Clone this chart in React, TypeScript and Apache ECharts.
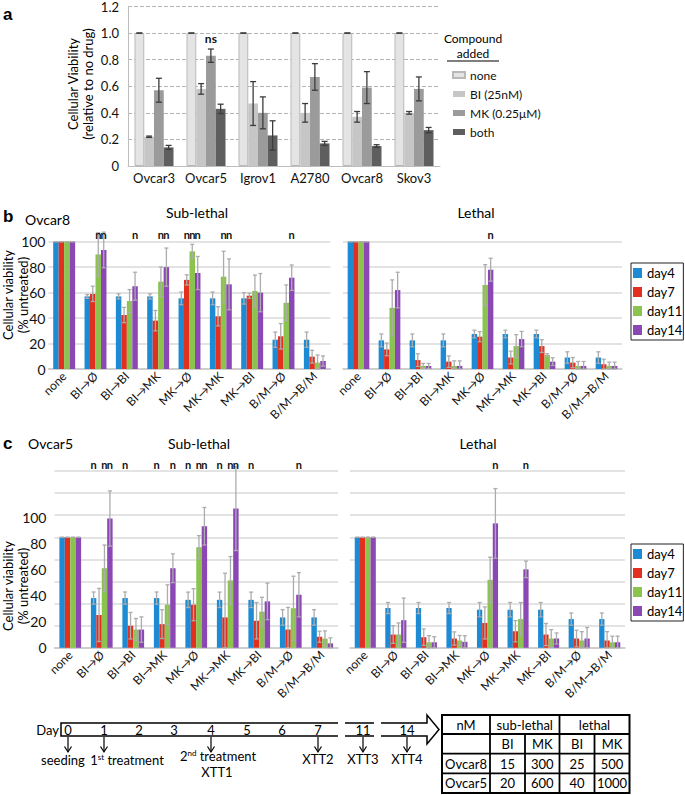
import React, { useEffect, useRef } from "react";
import * as echarts from "echarts";

// ---------------- Panel a : cell lines ----------------
const cellLines = ["Ovcar3", "Ovcar5", "Igrov1", "A2780", "Ovcar8", "Skov3"];
const compounds = ["none", "BI (25nM)", "MK (0.25μM)", "both"];
const viabilityNone = [1, 1, 1, 1, 1, 1];
const viabilityBI = [0.22, 0.58, 0.47, 0.4, 0.37, 0.4];
const viabilityMK = [0.57, 0.83, 0.4, 0.67, 0.59, 0.58];
const viabilityBoth = [0.14, 0.43, 0.23, 0.17, 0.15, 0.27];
const errNone = [0, 0, 0, 0, 0, 0];
const errBI = [0.005, 0.04, 0.165, 0.07, 0.04, 0.01];
const errMK = [0.09, 0.05, 0.12, 0.1, 0.12, 0.09];
const errBoth = [0.015, 0.035, 0.11, 0.015, 0.01, 0.02];
// [cell line index, compound index]
const nsMarksA = [[1, 2]];

// ---------------- Panels b / c : treatments ----------------
const treatments = ["none", "BI→Ø", "BI→BI", "BI→MK", "MK→Ø", "MK→MK", "MK→BI", "B/M→Ø", "B/M→B/M"];
const days = ["day4", "day7", "day11", "day14"];

// Ovcar8 sub-lethal
const o8SubDay4 = [100, 57, 57, 57, 55.5, 55.5, 55.5, 23, 23];
const o8SubDay7 = [100, 59, 42.4, 38, 70, 41.4, 57.6, 25.7, 9.7];
const o8SubDay11 = [100, 90, 53.4, 68.6, 92.4, 72.5, 61.3, 52, 5];
const o8SubDay14 = [100, 93.5, 65, 80, 75.4, 66.5, 60, 71.7, 6.3];
const o8SubErr4 = [0, 1.5, 2, 2, 5, 5, 4.5, 6, 6];
const o8SubErr7 = [0, 6, 6, 8, 4, 7.5, 2, 10, 5];
const o8SubErr11 = [0, 17, 9, 11.5, 5.5, 20, 12.5, 14, 6];
const o8SubErr14 = [0, 14, 11, 15, 13, 20, 15, 10, 4];
const o8SubMarks = [[1, 2], [1, 3], [2, 3], [3, 2], [3, 3], [4, 1], [4, 2], [4, 3], [5, 2], [5, 3], [7, 3]];

// Ovcar8 lethal
const o8LetDay4 = [100, 22.5, 22.5, 22.5, 27.5, 27.5, 27.5, 9, 9];
const o8LetDay7 = [100, 15.4, 7, 5.8, 25.4, 9, 18, 5, 3.7];
const o8LetDay11 = [100, 48, 2.4, 2.4, 66, 18, 11, 2.4, 2.4];
const o8LetDay14 = [100, 62, 2.4, 2.4, 78, 23.5, 5.8, 2.4, 2.4];
const o8LetErr4 = [0, 5, 5, 5, 3, 3, 3, 4.5, 4.5];
const o8LetErr7 = [0, 5, 5, 4.5, 4, 5, 5, 4, 4];
const o8LetErr11 = [0, 22, 2, 4, 16, 9, 1, 3.5, 3];
const o8LetErr14 = [0, 14, 2, 4, 9, 6, 3, 3.5, 3];
const o8LetMarks = [[4, 3]];

// Ovcar5 sub-lethal
const o5SubDay4 = [100, 45, 45, 45, 43.4, 43.4, 43.4, 27.5, 27.5];
const o5SubDay7 = [100, 29.7, 20, 21.4, 39, 27.5, 24.5, 16.5, 10];
const o5SubDay11 = [100, 72, 16.5, 39, 91, 61, 32.7, 35.8, 8.3];
const o5SubDay14 = [100, 117, 16.5, 72, 110, 126, 42, 48, 4];
const o5SubErr4 = [0, 5.5, 5.5, 5.5, 7, 7, 7, 7, 7];
const o5SubErr7 = [0, 24, 12, 13, 14.5, 40, 16.5, 20, 5];
const o5SubErr11 = [0, 21, 10, 18, 10.5, 21.6, 13, 29, 7];
const o5SubErr14 = [0, 25, 11.5, 13, 17, 38, 16.5, 20, 5];
const o5SubMarks = [[1, 0], [1, 2], [1, 3], [2, 0], [3, 0], [3, 3], [4, 0], [4, 2], [4, 3], [5, 0], [5, 2], [5, 3], [6, 0], [7, 3]];
const o5SubTickLabels = [0, 20, 40, 60, 80, 100];

// Ovcar5 lethal
const o5LetDay4 = [100, 36, 36, 36, 34.5, 34.5, 34.5, 26, 26];
const o5LetDay7 = [100, 12, 9.6, 8.4, 22.5, 15, 12, 8.4, 6.6];
const o5LetDay11 = [100, 12, 5, 6.6, 61.5, 26, 8.4, 6.6, 5];
const o5LetDay14 = [100, 25, 5, 5.4, 112.6, 71, 8.4, 8.4, 5];
const o5LetErr4 = [0, 5, 5, 5, 6.5, 6.5, 6.5, 5.5, 5.5];
const o5LetErr7 = [0, 8, 7.5, 6, 14.5, 9.6, 10, 7.5, 8];
const o5LetErr11 = [0, 10.5, 6, 4.5, 20.5, 15, 8, 8, 5.5];
const o5LetErr14 = [0, 20, 5, 5.5, 31.5, 7.5, 5, 10, 5.5];
const o5LetMarks = [[4, 3], [5, 3]];

// ---------------- Timeline & table ----------------
const timelineDays = ["0", "1", "2", "3", "4", "5", "6", "7", "11", "14"];
const tableHead1 = ["nM", "sub-lethal", "lethal"];
const tableHead2 = ["", "BI", "MK", "BI", "MK"];
const tableRows = [
  ["Ovcar8", "15", "300", "25", "500"],
  ["Ovcar5", "20", "600", "40", "1000"],
];

const FONT = "Lato, 'Liberation Sans', sans-serif";
const compoundColors = ["#e4e4e4", "#c6c6c6", "#9b9b9b", "#5e5e5e"];
const dayColors = ["#1d8ad4", "#e1301f", "#8bc34f", "#8b48b5"];

function errData(values: number[][], errs: number[][]) {
  const out: number[][] = [];
  values.forEach((vals, k) => vals.forEach((v, i) => out.push([i, k, v, errs[k][i]])));
  return out;
}

function makeErrRender(n: number, gap: number, cap: number, color: string, lw: number) {
  return (params: any, api: any) => {
    const cat = api.value(0);
    const k = api.value(1);
    const v = api.value(2);
    const e = api.value(3);
    const band = api.size([1, 0])[0];
    const bw = (band * (1 - gap)) / n;
    const off = (k - (n - 1) / 2) * bw;
    const hi = api.coord([cat, v + e]);
    const lo = api.coord([cat, Math.max(0, v - e)]);
    const x = hi[0] + off;
    const st = { stroke: color, lineWidth: lw };
    return {
      type: "group",
      children: [
        { type: "line", shape: { x1: x, y1: hi[1], x2: x, y2: lo[1] }, style: st },
        { type: "line", shape: { x1: x - cap / 2, y1: hi[1], x2: x + cap / 2, y2: hi[1] }, style: st },
        { type: "line", shape: { x1: x - cap / 2, y1: lo[1], x2: x + cap / 2, y2: lo[1] }, style: st },
      ],
    };
  };
}

function makeMarkRender(n: number, gap: number, level: number, text: string, font: string) {
  return (params: any, api: any) => {
    const cat = api.value(0);
    const k = api.value(1);
    const band = api.size([1, 0])[0];
    const bw = (band * (1 - gap)) / n;
    const off = (k - (n - 1) / 2) * bw;
    const p = api.coord([cat, level]);
    return {
      type: "text",
      x: p[0] + off,
      y: p[1],
      style: { text, align: "center", verticalAlign: "middle", font, fill: "#111" },
    };
  };
}

function panelSeries(
  names: string[],
  values: number[][],
  errs: number[][],
  marks: number[][],
  colors: string[],
  xi: number,
  yi: number,
  gap: number,
  errColor: string,
  cap: number,
  markLevel: number,
  markText: string,
  markFont: string,
  tag: string,
  firstBorder?: string
) {
  const s: any[] = names.map((name, k) => ({
    type: "bar",
    name,
    data: values[k],
    xAxisIndex: xi,
    yAxisIndex: yi,
    barGap: "0%",
    barCategoryGap: `${gap * 100}%`,
    itemStyle:
      k === 0 && firstBorder
        ? { color: colors[k], borderColor: firstBorder, borderWidth: 1 }
        : { color: colors[k] },
  }));
  s.push({
    type: "custom",
    name: "err-" + tag,
    xAxisIndex: xi,
    yAxisIndex: yi,
    data: errData(values, errs),
    renderItem: makeErrRender(names.length, gap, cap, errColor, 1.3),
    z: 5,
  });
  s.push({
    type: "custom",
    name: "mark-" + tag,
    xAxisIndex: xi,
    yAxisIndex: yi,
    data: marks,
    renderItem: makeMarkRender(names.length, gap, markLevel, markText, markFont),
    z: 5,
  });
  return s;
}

function buildOption() {
  const gridBC = { lineStyle: { color: "#e3e3e3", width: 2 } };
  const catAxisBC = (gridIndex: number) => ({
    type: "category",
    gridIndex,
    data: treatments,
    axisTick: { show: false },
    axisLine: { lineStyle: { color: "#c8c8c8", width: 1.5 } },
    axisLabel: { rotate: 45, interval: 0, fontSize: 12, color: "#111", margin: 5, fontFamily: FONT },
  });
  const valAxisBC = (gridIndex: number, max: number, showLabels: boolean) => ({
    type: "value",
    gridIndex,
    min: 0,
    max,
    interval: 20,
    position: "left",
    axisLine: { show: false },
    axisTick: { show: false },
    axisLabel: { show: showLabels, fontSize: 14, color: "#111", margin: 3, fontFamily: FONT },
    splitLine: gridBC,
  });

  const series: any[] = [
    ...panelSeries(
      compounds,
      [viabilityNone, viabilityBI, viabilityMK, viabilityBoth],
      [errNone, errBI, errMK, errBoth],
      nsMarksA,
      compoundColors,
      0, 0, 0.25, "#3c3c3c", 6, 0.96, "ns", `bold 12px ${FONT}`, "a", "#b9b9b9"
    ),
    ...panelSeries(
      days,
      [o8SubDay4, o8SubDay7, o8SubDay11, o8SubDay14],
      [o8SubErr4, o8SubErr7, o8SubErr11, o8SubErr14],
      o8SubMarks,
      dayColors,
      1, 1, 0.3, "#acacac", 4, 106, "n", `bold 11px ${FONT}`, "b1"
    ),
    ...panelSeries(
      days,
      [o8LetDay4, o8LetDay7, o8LetDay11, o8LetDay14],
      [o8LetErr4, o8LetErr7, o8LetErr11, o8LetErr14],
      o8LetMarks,
      dayColors,
      2, 2, 0.3, "#acacac", 4, 106, "n", `bold 11px ${FONT}`, "b2"
    ),
    ...panelSeries(
      days,
      [o5SubDay4, o5SubDay7, o5SubDay11, o5SubDay14],
      [o5SubErr4, o5SubErr7, o5SubErr11, o5SubErr14],
      o5SubMarks,
      dayColors,
      3, 3, 0.31, "#acacac", 4, 166, "n", `bold 11px ${FONT}`, "c1"
    ),
    ...panelSeries(
      days,
      [o5LetDay4, o5LetDay7, o5LetDay11, o5LetDay14],
      [o5LetErr4, o5LetErr7, o5LetErr11, o5LetErr14],
      o5LetMarks,
      dayColors,
      4, 5, 0.31, "#acacac", 4, 166, "n", `bold 11px ${FONT}`, "c2"
    ),
  ];

  const txt = (x: number, y: number, text: string, font: string, align = "center", extra: any = {}) => ({
    type: "text",
    x,
    y,
    silent: true,
    style: { text, font, align, verticalAlign: "middle", fill: "#000", ...extra },
  });
  const ln = (x1: number, y1: number, x2: number, y2: number, w = 1.5) => ({
    type: "line",
    silent: true,
    shape: { x1, y1, x2, y2 },
    style: { stroke: "#000", lineWidth: w },
  });

  const graphics: any[] = [];
  // panel letters and titles
  graphics.push(txt(3, 14, "a", "bold 17px 'Liberation Sans'", "left"));
  graphics.push(txt(3, 216, "b", "bold 17px 'Liberation Sans'", "left"));
  graphics.push(txt(3, 443, "c", "bold 17px 'Liberation Sans'", "left"));
  graphics.push(txt(25, 219, "Ovcar8", `14px ${FONT}`, "left"));
  graphics.push(txt(197, 212, "Sub-lethal", `14px ${FONT}`));
  graphics.push(txt(476, 212, "Lethal", `14px ${FONT}`));
  graphics.push(txt(28, 443, "Ovcar5", `14px ${FONT}`, "left"));
  graphics.push(txt(199, 443, "Sub-lethal", `14px ${FONT}`));
  graphics.push(txt(478, 443, "Lethal", `14px ${FONT}`));
  // rotated y titles
  const rot = (x: number, y: number, text: string) => ({
    type: "text",
    x,
    y,
    rotation: Math.PI / 2,
    silent: true,
    style: { text, font: `13px ${FONT}`, lineHeight: 15, align: "center", verticalAlign: "middle", fill: "#000" },
  });
  graphics.push(rot(80, 84, "Cellular Viability\n(relative to no drug)"));
  graphics.push(rot(15, 295, "Cellular viability\n(% untreated)"));
  graphics.push(rot(15, 586, "Cellular viability\n(% untreated)"));
  // legend title panel a
  graphics.push(txt(473, 38, "Compound", `12px ${FONT}`));
  graphics.push(txt(473, 53, "added", `12px ${FONT}`));
  graphics.push(ln(447, 61, 499, 61, 1.2));

  // timeline
  graphics.push(txt(59, 730, "Day", `13px ${FONT}`, "right"));
  graphics.push({
    type: "polyline",
    silent: true,
    shape: { points: [[338, 723], [61, 723], [61, 736], [338, 736]] },
    style: { stroke: "#000", lineWidth: 1.5, fill: "none" },
  });
  graphics.push(ln(345, 723, 374, 723));
  graphics.push(ln(345, 736, 374, 736));
  graphics.push({
    type: "polyline",
    silent: true,
    shape: { points: [[381, 723], [427, 723], [427, 715], [439, 729.5], [427, 744], [427, 736], [381, 736]] },
    style: { stroke: "#000", lineWidth: 1.5, fill: "none" },
  });
  const dayX = [68, 104, 139, 174, 211, 247, 282, 318, 363, 407];
  timelineDays.forEach((d, i) => graphics.push(txt(dayX[i], 730, d, `13px ${FONT}`)));
  [0, 1, 4, 7, 8, 9].forEach((i) => {
    const x = dayX[i];
    graphics.push(ln(x, 737, x, 751.5, 1.2));
    graphics.push({
      type: "polyline",
      silent: true,
      shape: { points: [[x - 3.5, 746.5], [x, 752], [x + 3.5, 746.5]] },
      style: { stroke: "#000", lineWidth: 1.2, fill: "none" },
    });
  });
  graphics.push(txt(63, 760, "seeding", `13px ${FONT}`));
  const supRich = {
    m: { font: `13px ${FONT}`, fill: "#000", lineHeight: 16, verticalAlign: "middle" },
    s: { font: `8px ${FONT}`, fill: "#000", lineHeight: 16, verticalAlign: "top", padding: [1, 0, 0, 0] },
  };
  graphics.push({
    type: "text",
    x: 127,
    y: 760,
    silent: true,
    style: { text: "{m|1}{s|st}{m| treatment}", align: "center", verticalAlign: "middle", rich: supRich },
  });
  graphics.push({
    type: "text",
    x: 218,
    y: 756,
    silent: true,
    style: { text: "{m|2}{s|nd}{m| treatment}", align: "center", verticalAlign: "middle", rich: supRich },
  });
  graphics.push(txt(217, 772, "XTT1", `13px ${FONT}`));
  graphics.push(txt(318, 759, "XTT2", `13px ${FONT}`));
  graphics.push(txt(363, 759, "XTT3", `13px ${FONT}`));
  graphics.push(txt(407, 759, "XTT4", `13px ${FONT}`));

  // table
  const tx = [442, 490, 525, 559.5, 594.5, 629.5];
  const ty = [715, 734, 753.7, 773.3, 793];
  graphics.push({
    type: "rect",
    silent: true,
    shape: { x: tx[0], y: ty[0], width: tx[5] - tx[0], height: ty[4] - ty[0] },
    style: { stroke: "#000", lineWidth: 2, fill: "none" },
  });
  for (let r = 1; r < 4; r++) graphics.push(ln(tx[0], ty[r], tx[5], ty[r], 1.8));
  graphics.push(ln(tx[1], ty[0], tx[1], ty[4], 1.8));
  graphics.push(ln(tx[3], ty[0], tx[3], ty[4], 1.8));
  graphics.push(ln(tx[2], ty[1], tx[2], ty[4], 1.8));
  graphics.push(ln(tx[4], ty[1], tx[4], ty[4], 1.8));
  const rowC = (r: number) => (ty[r] + ty[r + 1]) / 2;
  const colC = (c: number) => (tx[c] + tx[c + 1]) / 2;
  graphics.push(txt(colC(0), rowC(0), tableHead1[0], `13px ${FONT}`));
  graphics.push(txt((tx[1] + tx[3]) / 2, rowC(0), tableHead1[1], `13px ${FONT}`));
  graphics.push(txt((tx[3] + tx[5]) / 2, rowC(0), tableHead1[2], `13px ${FONT}`));
  tableHead2.forEach((t, c) => graphics.push(txt(colC(c), rowC(1), t, `13px ${FONT}`)));
  tableRows.forEach((row, r) =>
    row.forEach((t, c) => graphics.push(txt(colC(c), rowC(r + 2), t, `13px ${FONT}`)))
  );

  const dayLegend = (top: number) => ({
    data: days,
    orient: "vertical",
    left: 631,
    top,
    icon: "rect",
    itemWidth: 9,
    itemHeight: 10,
    itemGap: 5,
    padding: [3, 1, 3, 2],
    borderColor: "#222",
    borderWidth: 1,
    selectedMode: false,
    textStyle: { fontSize: 13, lineHeight: 14, color: "#000", fontFamily: FONT },
  });

  return {
    animation: false,
    backgroundColor: "#fff",
    textStyle: { fontFamily: FONT },
    grid: [
      { left: 128, top: 6, width: 312, height: 160 },
      { left: 48.5, top: 241.7, width: 282, height: 127.3 },
      { left: 343, top: 241.7, width: 279, height: 127.3 },
      { left: 54.5, top: 471, width: 283.5, height: 176.8 },
      { left: 350, top: 471, width: 275, height: 176.8 },
    ],
    legend: [
      {
        data: compounds,
        orient: "vertical",
        left: 447,
        top: 64,
        icon: "rect",
        itemWidth: 12,
        itemHeight: 6,
        itemGap: 7,
        selectedMode: false,
        textStyle: { fontSize: 12, color: "#111", fontFamily: FONT },
      },
      dayLegend(263),
      dayLegend(544),
    ],
    xAxis: [
      {
        type: "category",
        gridIndex: 0,
        data: cellLines,
        axisTick: { show: false },
        axisLine: { lineStyle: { color: "#bdbdbd" } },
        axisLabel: { interval: 0, fontSize: 13, color: "#111", margin: 5, fontFamily: FONT },
      },
      catAxisBC(1),
      catAxisBC(2),
      catAxisBC(3),
      catAxisBC(4),
    ],
    yAxis: [
      {
        type: "value",
        gridIndex: 0,
        min: 0,
        max: 1.2,
        interval: 0.2,
        axisLine: { show: true, lineStyle: { color: "#bdbdbd" } },
        axisTick: { show: false },
        axisLabel: {
          fontSize: 13,
          color: "#111",
          margin: 9,
          fontFamily: FONT,
          formatter: (v: number) => (v === 0 ? "0" : v.toFixed(1)),
        },
        splitLine: { lineStyle: { type: "dashed", color: "#b3b3b3" } },
      },
      valAxisBC(1, 100, true),
      valAxisBC(2, 100, false),
      valAxisBC(3, 160, false),
      {
        type: "value",
        gridIndex: 3,
        min: 0,
        max: 135.4,
        interval: 20,
        position: "left",
        axisLine: { show: false },
        axisTick: { show: false },
        splitLine: { show: false },
        axisLabel: {
          fontSize: 14,
          color: "#111",
          margin: 8,
          fontFamily: FONT,
          formatter: (v: number) => (o5SubTickLabels.indexOf(v) >= 0 ? String(v) : ""),
        },
      },
      valAxisBC(4, 160, false),
    ],
    series,
    graphic: graphics,
  };
}

export default function App() {
  const ref = useRef<HTMLDivElement>(null);
  useEffect(() => {
    if (!ref.current) return;
    const chart = echarts.init(ref.current, null, { renderer: "svg" });
    chart.setOption(buildOption() as any);
    return () => chart.dispose();
  }, []);
  return (
    <div
      ref={ref}
      style={{ position: "absolute", left: 0, top: 0, width: 685, height: 795, background: "#fff" }}
    />
  );
}
